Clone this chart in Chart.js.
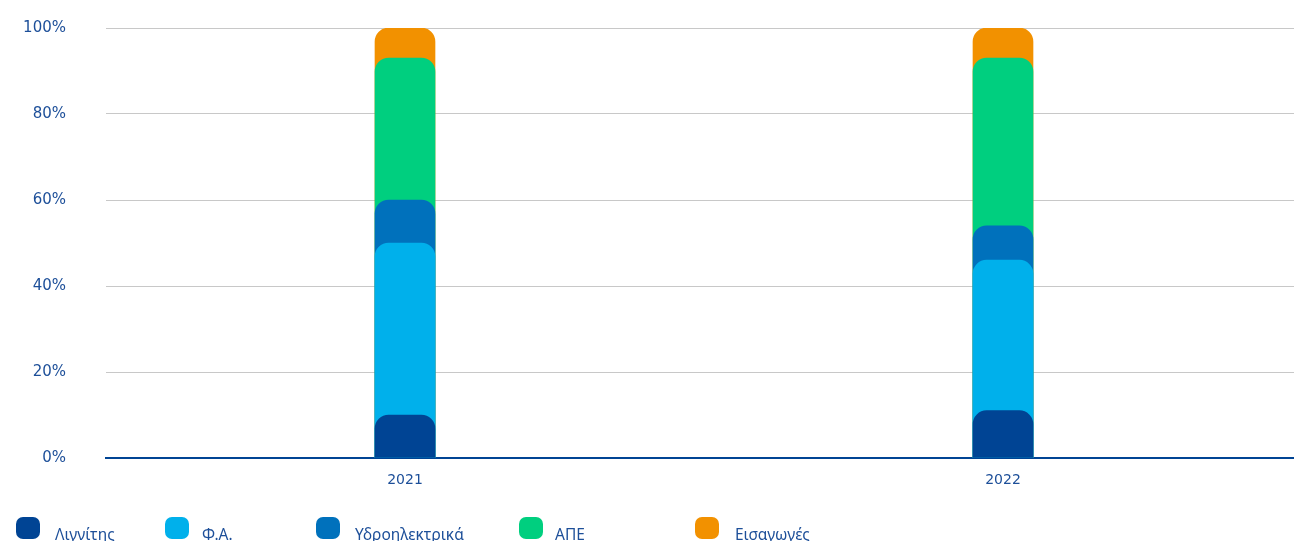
<!DOCTYPE html>
<html>
<head>
<meta charset="utf-8">
<script src="https://cdn.jsdelivr.net/npm/chart.js@4/dist/chart.umd.min.js"></script>
<style>
  html, body { margin: 0; padding: 0; width: 1294px; height: 541px; overflow: hidden; background: #fff; }
  #wrap { position: absolute; left: 0; top: 0; width: 1302px; height: 500px; }
  #legend { position: absolute; left: 0; top: 0; width: 1294px; height: 541px; pointer-events: none; }
  .item { position: absolute; top: 517px; height: 24px; font-family: "Noto Sans", "Open Sans", sans-serif; font-size: 15.5px; color: #1d4f99; }
  .sw { position: absolute; left: 0; top: 0; width: 24px; height: 22px; border-radius: 7px; }
  .lb { position: absolute; top: 6px; white-space: nowrap; }
</style>
</head>
<body>
<div id="wrap"><canvas id="c" width="1302" height="500"></canvas></div>
<div id="legend"></div>
<script>
const categories = ["2021", "2022"];
const seriesNames = ["Λιγνίτης", "Φ.Α.", "Υδροηλεκτρικά", "ΑΠΕ", "Εισαγωγές"];
const lignite = [10, 11];
const naturalGas = [40, 35];
const hydro = [10, 8];
const renewables = [33, 39];
const imports = [7, 7];
const yTicks = [0, 20, 40, 60, 80, 100];

const seriesValues = [lignite, naturalGas, hydro, renewables, imports];
const colors = ["#004494", "#00b0eb", "#0071bc", "#00cf7f", "#f29100"];
const legendX = [16, 165, 316, 519, 695];
const legendTextDx = [39, 37, 39, 36, 40];

// each segment drawn from 0 to its cumulative top, overlapping (lower series on top)
const cum = categories.map(() => 0);
const datasets = seriesValues.map((vals, i) => {
  const data = vals.map((v, j) => { cum[j] += v; return [0, cum[j]]; });
  return {
    label: seriesNames[i],
    data: data,
    backgroundColor: colors[i],
    borderWidth: 0,
    borderSkipped: false,
    borderRadius: { topLeft: 14, topRight: 14, bottomLeft: 0, bottomRight: 0 },
    barThickness: 60,
    grouped: false,
    order: i
  };
});

new Chart(document.getElementById('c'), {
  type: 'bar',
  data: { labels: categories, datasets: datasets },
  options: {
    responsive: false,
    animation: false,
    layout: { padding: { top: 28, right: 0, left: 0, bottom: 0 } },
    plugins: { legend: { display: false }, tooltip: { enabled: false } },
    scales: {
      x: {
        grid: { display: false, drawTicks: false },
        border: { display: true, color: '#004494', width: 2 },
        ticks: { color: '#1d4f99', font: { family: '"DejaVu Sans", sans-serif', size: 14 }, padding: 14 },
        afterFit: s => { s.height = 42; }
      },
      y: {
        min: 0, max: 100,
        afterBuildTicks: s => { s.ticks = yTicks.map(v => ({ value: v })); },
        grid: {
          drawTicks: false,
          color: ctx => ctx.tick && ctx.tick.value === 0 ? 'rgba(0,0,0,0)' : '#c8c8c8',
          lineWidth: 1
        },
        border: { display: false },
        ticks: {
          color: '#1d4f99',
          font: { family: '"DejaVu Sans", sans-serif', size: 15 },
          padding: 40,
          callback: v => v + '%'
        },
        afterFit: s => { s.width = 106; s.paddingTop = 0; s.paddingBottom = 0; }
      }
    }
  }
});

const lg = document.getElementById('legend');
seriesNames.forEach((n, i) => {
  const d = document.createElement('div');
  d.className = 'item';
  d.style.left = legendX[i] + 'px';
  d.innerHTML = '<div class="sw" style="background:' + colors[i] + '"></div><span class="lb" style="left:' + legendTextDx[i] + 'px">' + n + '</span>';
  lg.appendChild(d);
});
</script>
</body>
</html>
